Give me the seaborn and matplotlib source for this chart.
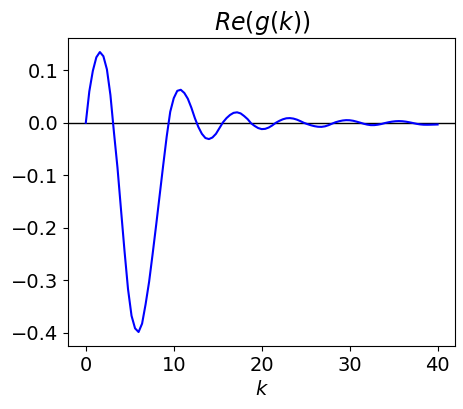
import matplotlib
matplotlib.use("Agg")
import matplotlib.pyplot as plt
import pandas as pd
import seaborn as sns

k_values = [
    0.0, 0.4, 0.8, 1.2, 1.6, 2.0, 2.4, 2.8, 3.2, 3.6,
    4.0, 4.4, 4.8, 5.2, 5.6, 6.0, 6.4, 6.8, 7.2, 7.6,
    8.0, 8.4, 8.8, 9.2, 9.6, 10.0, 10.4, 10.8, 11.2, 11.6,
    12.0, 12.4, 12.8, 13.2, 13.6, 14.0, 14.4, 14.8, 15.2, 15.6,
    16.0, 16.4, 16.8, 17.2, 17.6, 18.0, 18.4, 18.8, 19.2, 19.6,
    20.0, 20.4, 20.8, 21.2, 21.6, 22.0, 22.4, 22.8, 23.2, 23.6,
    24.0, 24.4, 24.8, 25.2, 25.6, 26.0, 26.4, 26.8, 27.2, 27.6,
    28.0, 28.4, 28.8, 29.2, 29.6, 30.0, 30.4, 30.8, 31.2, 31.6,
    32.0, 32.4, 32.8, 33.2, 33.6, 34.0, 34.4, 34.8, 35.2, 35.6,
    36.0, 36.4, 36.8, 37.2, 37.6, 38.0, 38.4, 38.8, 39.2, 39.6,
    40.0,
]
re_g = [
    0.0, 0.060, 0.099, 0.125, 0.135, 0.127, 0.102, 0.053, -0.018, -0.085,
    -0.165, -0.244, -0.317, -0.368, -0.392, -0.399, -0.383, -0.346, -0.303, -0.250,
    -0.195, -0.138, -0.081, -0.026, 0.021, 0.047, 0.061, 0.063, 0.057, 0.046,
    0.029, 0.009, -0.008, -0.021, -0.029, -0.031, -0.028, -0.021, -0.010, 0.001,
    0.009, 0.015, 0.019, 0.020, 0.018, 0.013, 0.007, -0.001, -0.006, -0.010,
    -0.012, -0.0115, -0.009, -0.005, 0.0, 0.0037, 0.0067, 0.0086, 0.009, 0.0081,
    0.0061, 0.0032, 0.0, -0.0025, -0.0047, -0.0064, -0.0075, -0.0077, -0.0067, -0.0045,
    -0.0016, 0.0011, 0.003, 0.0044, 0.0051, 0.0049, 0.0039, 0.0022, 0.0003, -0.0018,
    -0.0034, -0.0044, -0.0044, -0.0036, -0.0023, -0.0005, 0.001, 0.0022, 0.003, 0.0033,
    0.003, 0.0022, 0.001, -0.0004, -0.0019, -0.003, -0.0036, -0.0037, -0.0036, -0.0034,
    -0.0032,
]

df = pd.DataFrame({"k": k_values, "re_g": re_g})

fig, ax = plt.subplots(figsize=(4.64, 4.09), dpi=100)
fig.subplots_adjust(left=0.147, right=0.981, bottom=0.154, top=0.907)

ax.axhline(0, color="black", linewidth=1)
sns.lineplot(data=df, x="k", y="re_g", color="blue", linewidth=1.5, ax=ax)

ax.set_title("$Re(g(k))$", fontsize=17)
ax.set_xlabel("$k$", fontsize=14)
ax.set_ylabel("")
ax.tick_params(labelsize=14)

fig.savefig("out.png", dpi=100)
